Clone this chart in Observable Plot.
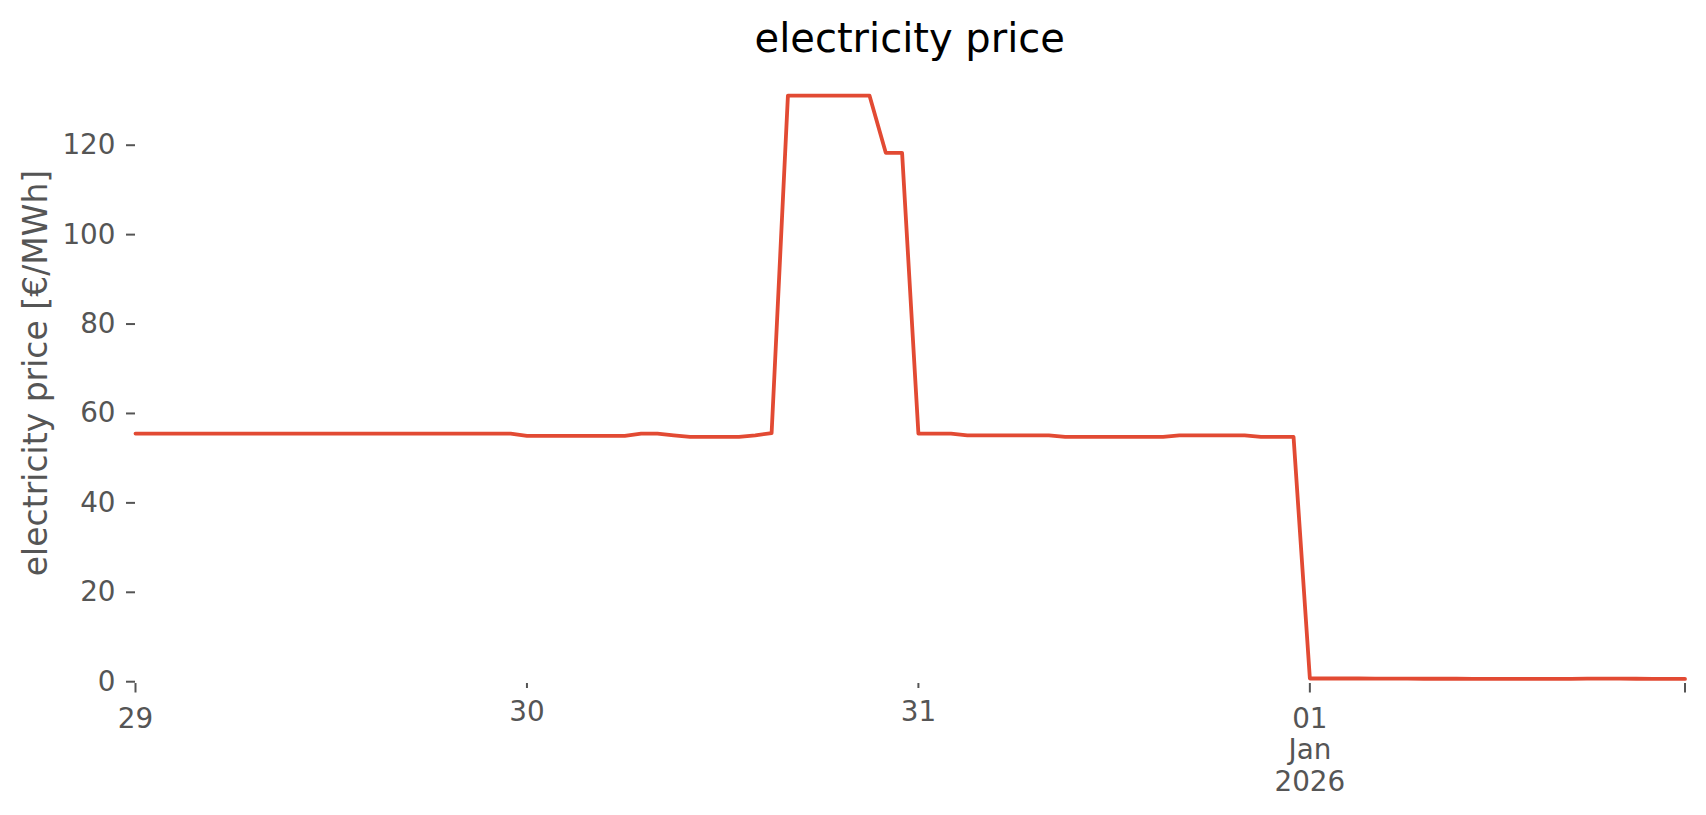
<!DOCTYPE html>
<html>
<head>
<meta charset="utf-8">
<script src="https://cdn.jsdelivr.net/npm/d3@7"></script>
<script src="https://cdn.jsdelivr.net/npm/@observablehq/plot@0.6"></script>
<style>
  body { margin: 0; background: #fff; font-family: "DejaVu Sans", sans-serif; }
  #title { height: 62px; box-sizing: border-box; padding-top: 18px; line-height: 40px; font-size: 40px;
           text-align: center; color: #000; margin-left: 135px; width: 1549.5px; white-space: nowrap; }
</style>
</head>
<body>
<div id="title">electricity price</div>
<div id="chart"></div>
<script>
// ---- data (hourly, starting 2025-12-29 00:00) ----
const startTime = "2025-12-29T00:00:00";
const pricesDec29 = [55.5,55.5,55.5,55.5,55.5,55.5,55.5,55.5,55.5,55.5,55.5,55.5,
                     55.5,55.5,55.5,55.5,55.5,55.5,55.5,55.5,55.5,55.5,55.5,55.5];
const pricesDec30 = [55.0,55.0,55.0,55.0,55.0,55.0,55.0,55.5,55.5,55.1,54.75,54.75,
                     54.75,54.75,55.1,55.6,131.1,131.1,131.1,131.1,131.1,131.1,118.3,118.3];
const pricesDec31 = [55.5,55.5,55.5,55.1,55.1,55.1,55.1,55.1,55.1,54.75,54.75,54.75,
                     54.75,54.75,54.75,54.75,55.1,55.1,55.1,55.1,55.1,54.75,54.75,54.75];
const pricesJan01 = [0.72,0.72,0.72,0.72,0.7,0.7,0.7,0.66,0.66,0.66,0.65,0.65,
                     0.65,0.65,0.65,0.65,0.65,0.68,0.68,0.68,0.66,0.62,0.62,0.62];
const prices = [...pricesDec29, ...pricesDec30, ...pricesDec31, ...pricesJan01];

const yTicks = [0, 20, 40, 60, 80, 100, 120];
const majorTickDates = ["2025-12-29T00:00:00", "2026-01-01T00:00:00", "2026-01-01T23:00:00"];
const majorTickLabels = ["29", "01\nJan\n2026", ""];
const minorTickDates = ["2025-12-30T00:00:00", "2025-12-31T00:00:00"];
const minorTickLabels = ["30", "31"];
const yLabel = "electricity price [€/MWh]";

// ---- build table ----
const t0 = new Date(startTime);
const data = prices.map((p, i) => ({ t: new Date(t0.getTime() + i * 3600e3), p }));
const majors = majorTickDates.map((d, i) => ({ t: new Date(d), label: majorTickLabels[i] }));
const minors = minorTickDates.map((d, i) => ({ t: new Date(d), label: minorTickLabels[i] }));

const grey = "#555555";
const chart = Plot.plot({
  width: 1706,
  height: 753,
  marginLeft: 135,
  marginRight: 21.5,
  marginTop: 0,
  marginBottom: 132,
  style: { fontFamily: "DejaVu Sans", fontSize: "27.8px", color: grey, background: "white", overflow: "visible" },
  x: { type: "time", domain: [data[0].t, data[data.length - 1].t] },
  y: { domain: [-0.4, 138.5] },
  marks: [
    Plot.axisY(yTicks, { tickSize: 9, tickPadding: 11, strokeWidth: 2, stroke: grey, fill: grey,
                         fontSize: 27.8, label: null, tickFormat: d => String(d) }),
    Plot.axisX(majors.map(d => d.t), { tickSize: 9.5, strokeWidth: 2, stroke: grey, label: null, tickFormat: () => "" }),
    Plot.axisX(minors.map(d => d.t), { tickSize: 5, strokeWidth: 2, stroke: grey, label: null, tickFormat: () => "" }),
    Plot.text(majors, { x: "t", text: "label", frameAnchor: "bottom", dy: 22, lineAnchor: "top",
                        lineHeight: 1.13, fill: grey, fontSize: 27.8 }),
    Plot.text(minors, { x: "t", text: "label", frameAnchor: "bottom", dy: 17.5, lineAnchor: "top",
                        fill: grey, fontSize: 27.8 }),
    Plot.text([yLabel], { text: d => d, frameAnchor: "left", textAnchor: "middle", dx: -99, rotate: -90,
                          fill: grey, fontSize: 33 }),
    Plot.line(data, { x: "t", y: "p", stroke: "#E24A33", strokeWidth: 3.8 })
  ]
});
document.getElementById("chart").appendChild(chart);
</script>
</body>
</html>
